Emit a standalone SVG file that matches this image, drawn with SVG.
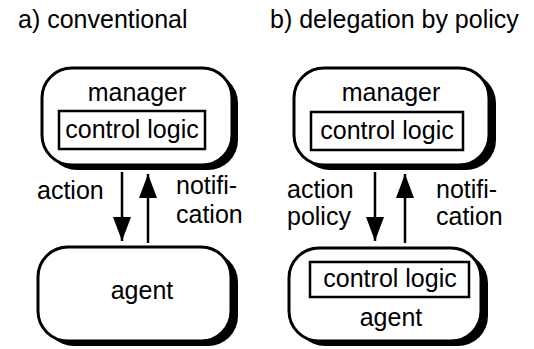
<svg xmlns="http://www.w3.org/2000/svg" width="534" height="349" viewBox="0 0 534 349">
<style>
text{font-family:"Liberation Sans",Arial,sans-serif;font-size:25px;fill:#000}
.mid{text-anchor:middle}
.shadow{fill:#000}
.box{fill:#fff;stroke:#000;stroke-width:3}
.inner{fill:#fff;stroke:#000;stroke-width:2.5}
.line{stroke:#000;stroke-width:2.5;fill:none}
</style>
<defs>
<marker id="ah" markerWidth="24" markerHeight="18" refX="24" refY="9" orient="auto" markerUnits="userSpaceOnUse" viewBox="0 0 24 18">
<path d="M0,0 L24,9 L0,18 Z" fill="#000"/>
</marker>
</defs>
<text x="18" y="28">a) conventional</text>
<text x="270" y="28">b) delegation by policy</text>

<g id="manager-a">
<rect class="shadow" x="47" y="73" width="191" height="97" rx="30"/>
<rect class="box" x="42" y="68" width="190" height="97" rx="30"/>
<text class="mid" x="137" y="101">manager</text>
<g id="control-a">
<rect class="inner" x="59" y="111" width="146" height="38"/>
<text class="mid" x="132" y="138">control logic</text>
</g>
</g>
<g id="agent-a">
<rect class="shadow" x="44" y="252" width="194" height="94" rx="30"/>
<rect class="box" x="38" y="247" width="193" height="94" rx="30"/>
<text class="mid" x="142" y="299">agent</text>
</g>

<g id="manager-b">
<rect class="shadow" x="300" y="73" width="196" height="97" rx="30"/>
<rect class="box" x="294" y="68" width="195" height="97" rx="30"/>
<text class="mid" x="391" y="101">manager</text>
<g id="control-b1">
<rect class="inner" x="311" y="112" width="152" height="38"/>
<text class="mid" x="387" y="139">control logic</text>
</g>
</g>
<g id="agent-b">
<rect class="shadow" x="295" y="253" width="193" height="93" rx="30"/>
<rect class="box" x="289" y="248" width="192" height="93" rx="30"/>
<g id="control-b2">
<rect class="inner" x="310" y="262" width="159" height="35"/>
<text class="mid" x="390" y="287">control logic</text>
</g>
<text class="mid" x="391" y="326">agent</text>
</g>

<g id="connectors">
<line class="line" x1="122" y1="172" x2="122" y2="241" marker-end="url(#ah)"/>
<line class="line" x1="148" y1="243" x2="148" y2="174" marker-end="url(#ah)"/>
<line class="line" x1="375" y1="172" x2="375" y2="241" marker-end="url(#ah)"/>
<line class="line" x1="405" y1="243" x2="405" y2="174" marker-end="url(#ah)"/>
</g>

<g id="labels">
<text x="37" y="199">action</text>
<text x="176" y="194">notifi-</text>
<text x="176" y="223">cation</text>
<text x="287" y="198">action</text>
<text x="287" y="225">policy</text>
<text x="436" y="198">notifi-</text>
<text x="436" y="225">cation</text>
</g>
</svg>
